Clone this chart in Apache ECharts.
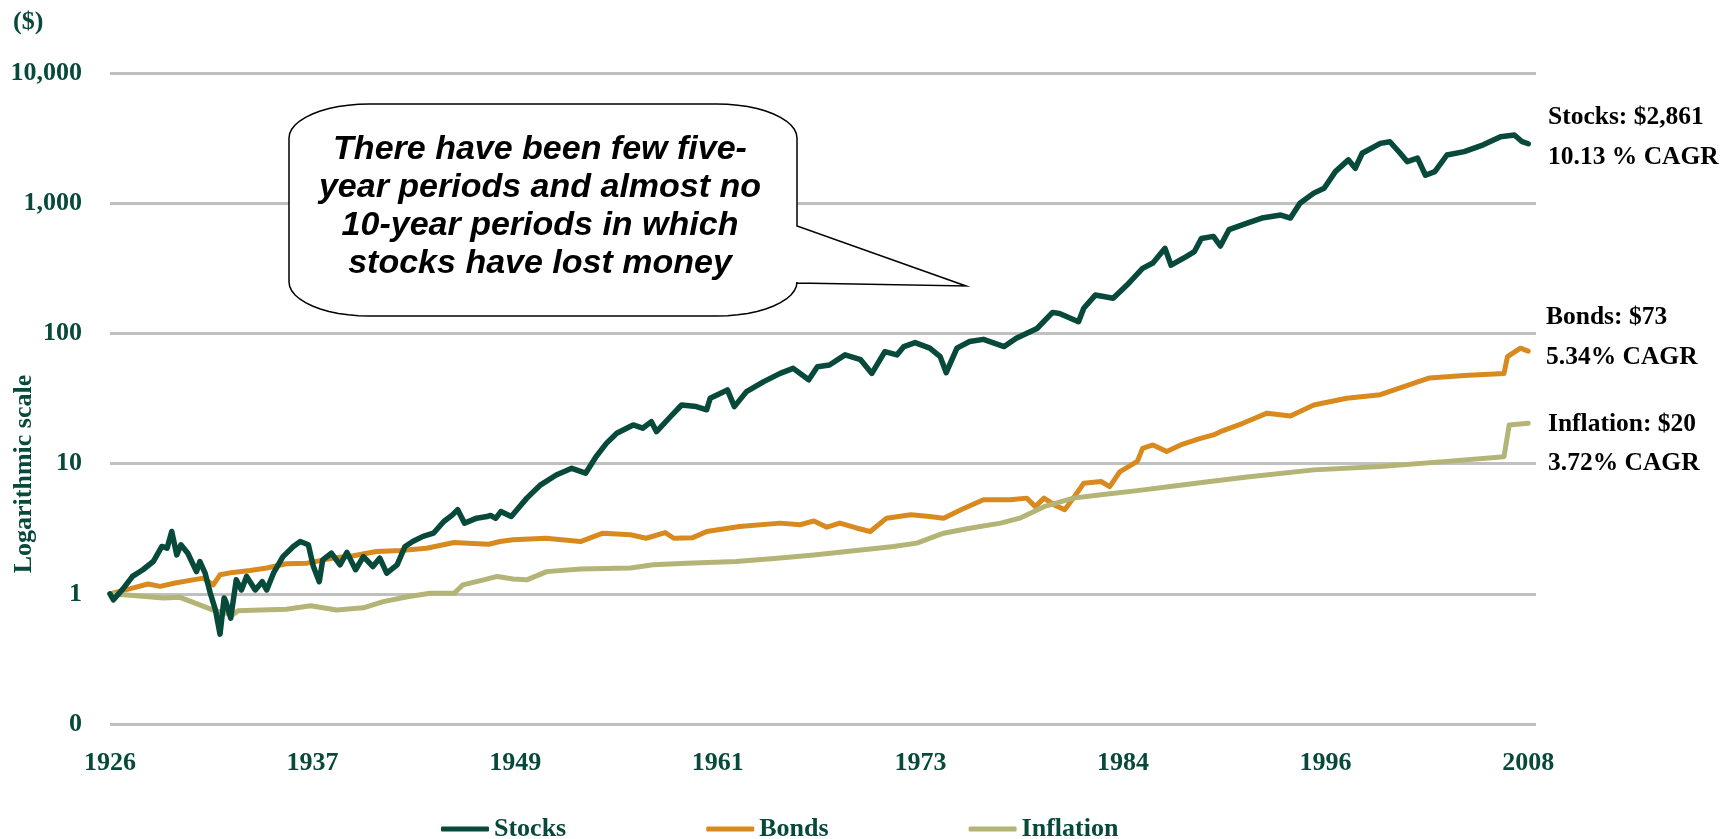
<!DOCTYPE html>
<html>
<head>
<meta charset="utf-8">
<title>Stocks, Bonds, Inflation</title>
<script src="https://cdn.jsdelivr.net/npm/echarts@6/dist/echarts.min.js"></script>
<style>
  html, body { margin: 0; padding: 0; background: #fff; }
  #main { width: 1730px; height: 839px; }
</style>
</head>
<body>
<div id="main"></div>
<script>
// values ($1 invested at start of 1926)
var stocksT = [1926.0, 1926.2, 1926.75, 1927.3, 1927.9, 1928.5, 1929.0, 1929.3, 1929.57, 1929.86,
  1930.1, 1930.5, 1931.0, 1931.2, 1931.5, 1931.8, 1932.1, 1932.36, 1932.6, 1932.7,
  1932.98, 1933.3, 1933.6, 1933.9, 1934.4, 1934.8, 1935.06, 1935.45, 1936.0, 1936.6,
  1937.0, 1937.47, 1937.76, 1938.1, 1938.3, 1938.8, 1939.3, 1939.7, 1940.2, 1940.65,
  1941.2, 1941.6, 1942.0, 1942.6, 1943.06, 1943.5, 1944.1, 1944.7, 1945.3, 1945.8,
  1946.1, 1946.5, 1947.2, 1947.8, 1948.0, 1948.3, 1948.6, 1949.2, 1950.1, 1950.9,
  1951.8, 1952.7, 1953.5, 1954.1, 1954.7, 1955.3, 1956.25, 1956.8, 1957.3, 1957.6,
  1958.4, 1959.05, 1959.9, 1960.5, 1960.7, 1961.7, 1962.1, 1962.8, 1963.8, 1964.75,
  1965.5, 1966.4, 1966.9, 1967.6, 1968.5, 1969.4, 1970.05, 1970.8, 1971.5, 1971.9,
  1972.55, 1973.4, 1974.0, 1974.35, 1974.97, 1975.7, 1976.5, 1977.7, 1978.4, 1979.6,
  1980.5, 1980.9, 1982.0, 1982.3, 1982.97, 1984.0, 1984.8, 1985.7, 1986.3, 1987.0,
  1987.35, 1988.2, 1988.7, 1989.1, 1989.8, 1990.2, 1990.7, 1991.75, 1992.6, 1993.7,
  1994.25, 1994.8, 1995.6, 1996.2, 1996.85, 1997.6, 1998.0, 1998.4, 1999.45, 2000.0,
  2000.6, 2001.0, 2001.6, 2002.06, 2002.6, 2003.3, 2004.3, 2005.4, 2006.4, 2007.2,
  2007.65, 2008.0];
var stocksV = [1.00, 0.90, 1.09, 1.36, 1.53, 1.77, 2.31, 2.24, 3.01, 1.99,
  2.38, 2.05, 1.48, 1.77, 1.44, 1.01, 0.75, 0.49, 0.93, 0.87,
  0.65, 1.28, 1.07, 1.36, 1.07, 1.24, 1.07, 1.44, 1.93, 2.31,
  2.52, 2.38, 1.62, 1.24, 1.82, 2.05, 1.67, 2.08, 1.53, 1.93,
  1.62, 1.88, 1.44, 1.67, 2.31, 2.52, 2.76, 2.92, 3.59, 4.04,
  4.42, 3.49, 3.81, 3.92, 4.0, 3.8, 4.28, 3.92, 5.43, 6.87,
  8.18, 9.2, 8.44, 11.3, 14.3, 17.1, 19.8, 18.7, 21.0, 17.6,
  22.9, 28.2, 27.4, 25.9, 31.8, 36.8, 27.4, 35.7, 42.6, 49.3,
  53.9, 44.0, 55.4, 57.2, 68.4, 62.8, 49.3, 72.4, 68.4, 79.2,
  85.0, 77.0, 66.3, 49.9, 77.0, 86.6, 90.0, 79.2, 91.8, 109,
  145, 142, 123, 156, 197, 186, 235, 316, 347, 450,
  334, 387, 425, 536, 556, 469, 626, 703, 769, 811,
  769, 1000, 1195, 1302, 1747, 2152, 1855, 2418, 2880, 2966,
  2418, 2087, 2221, 1639, 1747, 2345, 2490, 2808, 3241, 3340,
  2966, 2861];

var bondsT = [1926.0, 1927.35, 1928.2, 1928.9, 1929.76, 1930.8, 1931.4, 1931.97, 1932.36, 1933.1,
  1934.1, 1935.06, 1936.2, 1937.4, 1938.9, 1940.07, 1941.4, 1942.8, 1944.3, 1945.9,
  1946.7, 1947.9, 1948.55, 1949.3, 1951.2, 1953.2, 1954.5, 1956.1, 1957.0, 1958.1,
  1958.6, 1959.7, 1960.5, 1962.4, 1964.75, 1965.9, 1966.7, 1967.45, 1968.2, 1969.2,
  1969.96, 1970.9, 1972.3, 1973.4, 1974.2, 1975.2, 1976.5, 1978.05, 1979.0, 1979.5,
  1980.0, 1980.6, 1981.2, 1981.7, 1982.3, 1983.3, 1983.8, 1984.4, 1985.4, 1985.7,
  1986.3, 1987.1, 1987.9, 1989.05, 1989.8, 1990.2, 1991.5, 1992.9, 1994.25, 1995.6,
  1997.5, 1999.45, 2001.4, 2002.3, 2004.3, 2006.6, 2006.8, 2007.55, 2008.0];
var bondsV = [1.00, 1.11, 1.19, 1.14, 1.21, 1.28, 1.32, 1.17, 1.40, 1.46,
  1.51, 1.58, 1.70, 1.72, 1.88, 1.96, 2.11, 2.15, 2.24, 2.48,
  2.45, 2.40, 2.52, 2.60, 2.67, 2.52, 2.92, 2.84, 2.67, 2.95,
  2.67, 2.70, 3.01, 3.29, 3.49, 3.39, 3.63, 3.25, 3.49, 3.19,
  3.01, 3.81, 4.04, 3.92, 3.81, 4.42, 5.27, 5.27, 5.43, 4.67,
  5.43, 4.82, 4.42, 5.43, 7.07, 7.29, 6.66, 8.69, 10.4, 13.1,
  13.9, 12.4, 13.9, 15.6, 16.6, 17.6, 20.4, 24.4, 23.2, 28.2,
  31.8, 33.8, 41.5, 45.5, 47.4, 49.3, 66.3, 77.0, 73];

var inflationT = [1926.0, 1927.35, 1929.1, 1930.05, 1931.0, 1931.97, 1933.1, 1933.4, 1934.7, 1936.2,
  1937.6, 1939.1, 1940.65, 1941.8, 1943.2, 1944.5, 1945.9, 1946.4, 1947.6, 1948.4,
  1949.3, 1950.1, 1951.25, 1953.2, 1956.1, 1957.4, 1959.35, 1962.2, 1964.75, 1966.7,
  1968.6, 1970.5, 1971.3, 1972.65, 1974.2, 1975.7, 1977.5, 1978.6, 1980.0, 1981.7,
  1983.3, 1985.4, 1987.3, 1989.6, 1991.75, 1995.6, 1999.45, 2003.3, 2006.6, 2006.9,
  2008.0];
var inflationV = [1.00, 0.97, 0.93, 0.94, 0.84, 0.75, 0.69, 0.74, 0.75, 0.76,
  0.81, 0.75, 0.78, 0.87, 0.95, 1.01, 1.01, 1.17, 1.28, 1.36,
  1.30, 1.28, 1.48, 1.55, 1.58, 1.67, 1.72, 1.77, 1.88, 1.99,
  2.11, 2.25, 2.31, 2.45, 2.92, 3.19, 3.49, 3.81, 4.67, 5.43,
  5.76, 6.2, 6.66, 7.29, 7.9, 8.95, 9.5, 10.4, 11.3, 19.8,
  20.4];

var tickLabels = ['1926', '1937', '1949', '1961', '1973', '1984', '1996', '2008'];
var seriesNames = ['Stocks', 'Bonds', 'Inflation'];
var endNotes = [['Stocks: $2,861', '10.13 % CAGR'], ['Bonds: $73', '5.34% CAGR'], ['Inflation: $20', '3.72% CAGR']];
var calloutText = 'There have been few five-\nyear periods and almost no\n10-year periods in which\nstocks have lost money';

var GREEN = '#07493a', ORANGE = '#d98a1e', KHAKI = '#b4b477';
var serif = '"Liberation Serif", "Times New Roman", serif';

function pairs(t, v) {
    return t.map(function (x, i) { return [x, v[i]]; });
}
var tickPos = tickLabels.map(function (s, i) { return 1926 + i * 82 / 7; });

function noteText(x, y, s) {
    return { type: 'text', x: x, y: y, silent: true,
        style: { text: s, font: 'bold 25.5px ' + serif, fill: '#000', align: 'left', verticalAlign: 'middle',
                 textAlign: 'left', textVerticalAlign: 'middle' } };
}

// outline of the speech bubble: box with elliptical corners and a tail on the right
function bubblePoints(L, T, R, B, rx, ry, tail) {
    var pts = [];
    function corner(cx, cy, a0) {
        for (var k = 0; k <= 12; k++) {
            var a = a0 + k * Math.PI / 24;
            pts.push([cx + rx * Math.cos(a), cy + ry * Math.sin(a)]);
        }
    }
    corner(R - rx, T + ry, -Math.PI / 2);      // top right
    pts.push(tail[0], tail[1], tail[2]);
    corner(R - rx, B - ry, 0);                 // bottom right
    corner(L + rx, B - ry, Math.PI / 2);       // bottom left
    corner(L + rx, T + ry, Math.PI);           // top left
    return pts;
}

var myChart = echarts.init(document.getElementById('main'));
var option = {
    animation: false,
    backgroundColor: '#fff',
    grid: { left: 110, right: 194, top: 73, bottom: 115 },
    xAxis: {
        type: 'value', min: 1926, max: 2008.45,
        axisLine: { show: false }, axisTick: { show: false }, splitLine: { show: false },
        axisLabel: {
            customValues: tickPos,
            formatter: function (v) {
                var i = Math.round((v - 1926) / (82 / 7));
                return tickLabels[i] || '';
            },
            margin: 26, color: GREEN, fontFamily: serif, fontWeight: 'bold', fontSize: 26
        }
    },
    yAxis: {
        type: 'log', logBase: 10, min: 0.1, max: 10000,
        axisLine: { show: false }, axisTick: { show: false },
        splitLine: { show: true, lineStyle: { color: '#c0c0c0', width: 3 } },
        axisLabel: {
            margin: 28, color: GREEN, fontFamily: serif, fontWeight: 'bold', fontSize: 26,
            formatter: function (v) {
                if (v < 0.99) return '0';
                return Math.round(v).toLocaleString('en-US');
            }
        }
    },
    legend: {
        data: seriesNames,
        left: 436, top: 811,
        icon: 'roundRect', itemWidth: 48, itemHeight: 5, itemGap: 140,
        textStyle: { color: GREEN, fontFamily: serif, fontWeight: 'bold', fontSize: 26 }
    },
    series: [
        { name: seriesNames[0], type: 'line', data: pairs(stocksT, stocksV), showSymbol: false, symbol: 'none',
          z: 4, color: GREEN, lineStyle: { width: 5.5, color: GREEN, cap: 'round', join: 'round' } },
        { name: seriesNames[1], type: 'line', data: pairs(bondsT, bondsV), showSymbol: false, symbol: 'none',
          z: 2, color: ORANGE, lineStyle: { width: 5, color: ORANGE, cap: 'round', join: 'round' } },
        { name: seriesNames[2], type: 'line', data: pairs(inflationT, inflationV), showSymbol: false, symbol: 'none',
          z: 3, color: KHAKI, lineStyle: { width: 5, color: KHAKI, cap: 'round', join: 'round' } }
    ],
    graphic: [
        { type: 'text', x: 13, y: 22, silent: true,
          style: { text: '($)', font: 'bold 26px ' + serif, fill: GREEN, align: 'left', verticalAlign: 'middle',
                   textAlign: 'left', textVerticalAlign: 'middle' } },
        { type: 'text', x: 24, y: 474, rotation: Math.PI / 2, silent: true,
          style: { text: 'Logarithmic scale', font: 'bold 26px ' + serif, fill: GREEN, align: 'center', verticalAlign: 'middle',
                   textAlign: 'center', textVerticalAlign: 'middle' } },
        { type: 'polygon', silent: true, z: 100,
          shape: { points: bubblePoints(289, 104, 797, 316, 80, 34, [[797, 226], [966, 286], [797, 283]]) },
          style: { fill: '#fff', stroke: '#000', lineWidth: 1.5 } },
        { type: 'text', x: 540, y: 207, z: 101, silent: true,
          style: { text: calloutText,
                   font: 'italic bold 34px "Liberation Sans", Arial, sans-serif', lineHeight: 38, fill: '#000',
                   align: 'center', verticalAlign: 'middle', textAlign: 'center', textVerticalAlign: 'middle' } },
        noteText(1548, 117, endNotes[0][0]), noteText(1548, 157, endNotes[0][1]),
        noteText(1546, 317, endNotes[1][0]), noteText(1546, 357, endNotes[1][1]),
        noteText(1548, 424, endNotes[2][0]), noteText(1548, 463, endNotes[2][1])
    ]
};
myChart.setOption(option);
</script>
</body>
</html>
